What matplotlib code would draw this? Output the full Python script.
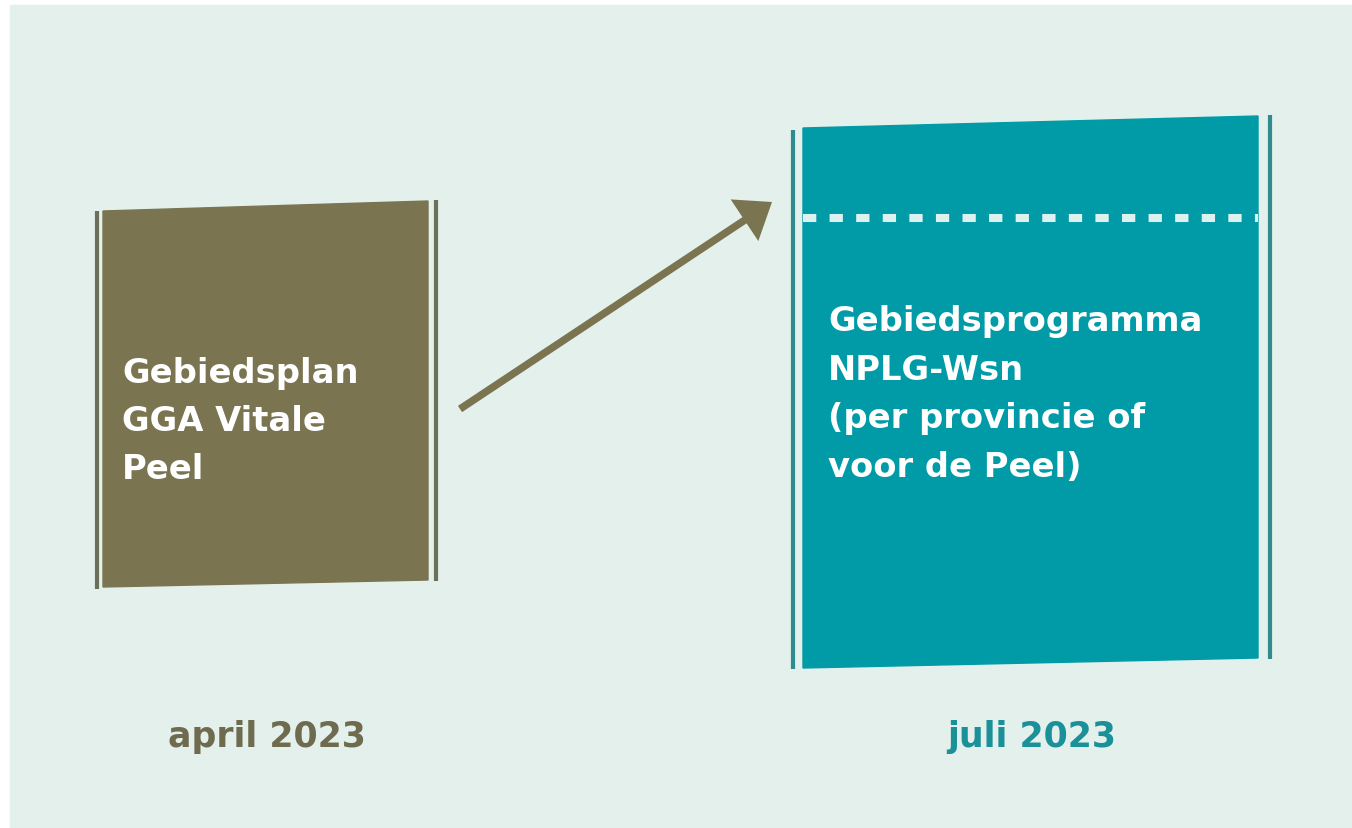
import matplotlib
matplotlib.use('Agg')
import matplotlib.pyplot as plt
from matplotlib.patches import Polygon, Rectangle

# --- teksten ---
links_tekst = ['Gebiedsplan', 'GGA Vitale', 'Peel']
rechts_tekst = ['Gebiedsprogramma', 'NPLG-Wsn', '(per provincie of', 'voor de Peel)']
datums = ['april 2023', 'juli 2023']

# --- kleuren ---
achtergrond = '#E3F0EC'
olijf = '#7A7550'
olijf_lijn = '#6B705A'
olijf_label = '#6E6B4F'
teal = '#009BA6'
teal_lijn = '#2D8C8E'
teal_label = '#1A9098'

W, H = 1352, 829
fig = plt.figure(figsize=(W / 100, H / 100), dpi=100, facecolor='white')
ax = fig.add_axes([0, 0, 1, 1])
ax.set_xlim(0, W)
ax.set_ylim(H, 0)
ax.axis('off')

# achtergrondvlak
ax.add_patch(Rectangle((10, 6), W - 10, H - 7, color=achtergrond, zorder=0))

# linker blok (iets scheef)
ax.add_patch(Polygon([(103, 212), (428, 202), (428, 581), (103, 588)],
                     closed=True, color=olijf, zorder=2))
ax.plot([97, 97], [212, 590], color=olijf_lijn, lw=3, solid_capstyle='butt', zorder=2)
ax.plot([436, 436], [201, 582], color=olijf_lijn, lw=3, solid_capstyle='butt', zorder=2)

# rechter blok
ax.add_patch(Polygon([(803, 129), (1258, 117), (1258, 659), (803, 669)],
                     closed=True, color=teal, zorder=2))
ax.plot([792.5, 792.5], [131, 670], color=teal_lijn, lw=3, solid_capstyle='butt', zorder=2)
ax.plot([1270, 1270], [116, 660], color=teal_lijn, lw=3, solid_capstyle='butt', zorder=2)

# stippellijn in rechter blok
ax.plot([803, 1258], [219, 219], color='#DDF1F1', lw=5.8,
        ls=(0, (1.65, 1.65)), dash_capstyle='butt', zorder=3)

# pijl
ax.arrow(460, 410, 312, -207, width=7.5, head_width=50, head_length=33,
         length_includes_head=True, color=olijf, lw=0, zorder=3)

# tekst in blokken
fnt = dict(family='DejaVu Sans', weight='bold', color='white', fontsize=24.3,
           va='baseline', ha='left', zorder=4)
for i, regel in enumerate(links_tekst):
    ax.text(122, 383 + i * 48, regel, **fnt)
for i, regel in enumerate(rechts_tekst):
    ax.text(828, 331 + i * 48.7, regel, **fnt)

# datums onder de blokken
ax.text(267, 747, datums[0], family='DejaVu Sans', weight='bold', fontsize=25,
        color=olijf_label, ha='center', va='baseline')
ax.text(1032, 747, datums[1], family='DejaVu Sans', weight='bold', fontsize=25,
        color=teal_label, ha='center', va='baseline')

fig.savefig('out.png', dpi=100, facecolor=fig.get_facecolor())
